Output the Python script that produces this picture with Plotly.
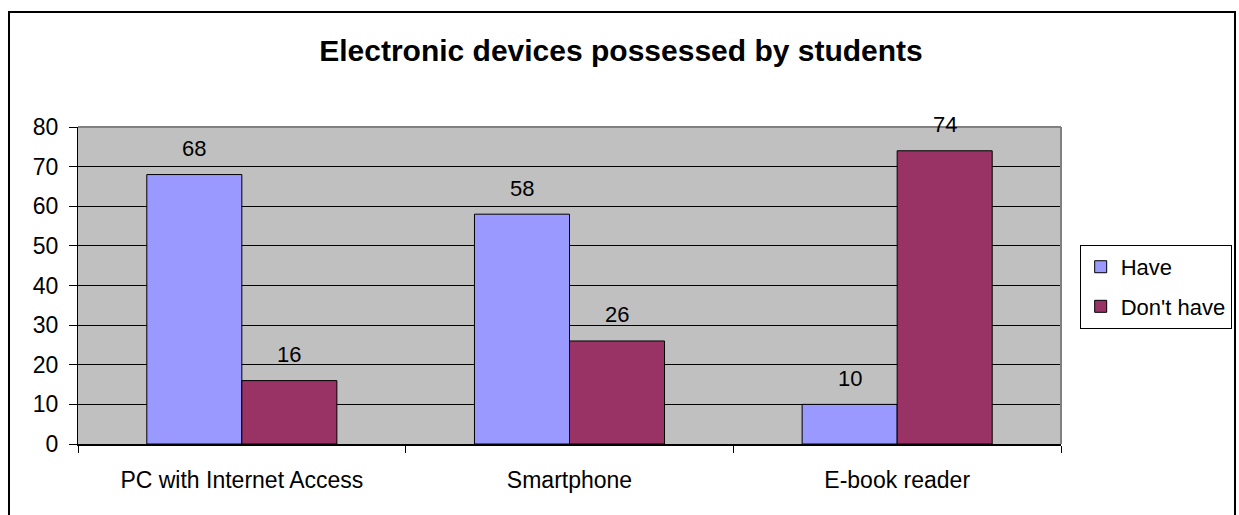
import plotly.graph_objects as go

# Survey results: number of students with / without each device
categories = ["PC with Internet Access", "Smartphone", "E-book reader"]
have = [68, 58, 10]
dont_have = [16, 26, 74]
series_names = ["Have", "Don't have"]
y_ticks = [0, 10, 20, 30, 40, 50, 60, 70, 80]

FONT = "Liberation Sans, Arial, sans-serif"
BAR_GAP = 0.42

fig = go.Figure()
fig.add_trace(go.Bar(
    x=categories, y=have, name=series_names[0],
    marker=dict(color="#9999FF", line=dict(color="black", width=1)),
    legendgroup="a",
))
fig.add_trace(go.Bar(
    x=categories, y=dont_have, name=series_names[1],
    marker=dict(color="#993366", line=dict(color="black", width=1)),
    legendgroup="b",
))

# value labels above each bar, placed at the bar's group offset
half = (1 - BAR_GAP) / 2
for i, (a, b) in enumerate(zip(have, dont_have)):
    for xpos, val in ((i - half / 2, a), (i + half / 2, b)):
        fig.add_annotation(
            x=xpos, y=val, xref="x", yref="y", text=str(val),
            showarrow=False, yshift=26, yanchor="middle",
            font=dict(family=FONT, size=22, color="black"),
        )

# outer chart frame
fig.add_shape(type="rect", xref="paper", yref="paper",
              x0=-0.0702, x1=1.177, y0=-0.3, y1=1.3628,
              line=dict(color="black", width=2), layer="above")
# top and right plot-area edges in grey
fig.add_shape(type="line", xref="paper", yref="paper",
              x0=0, x1=1, y0=1, y1=1,
              line=dict(color="#808080", width=2), layer="above")
fig.add_shape(type="line", xref="paper", yref="paper",
              x0=1, x1=1, y0=0, y1=1,
              line=dict(color="#808080", width=2), layer="above")

fig.update_layout(
    width=1239, height=515,
    margin=dict(l=78, r=178, t=127, b=71, autoexpand=False),
    paper_bgcolor="white",
    plot_bgcolor="#C0C0C0",
    barmode="group",
    bargap=BAR_GAP,
    bargroupgap=0,
    title=dict(
        text="<b>Electronic devices possessed by students</b>",
        x=621 / 1239, xanchor="center",
        y=1 - 50 / 515, yanchor="middle",
        font=dict(family=FONT, size=30, color="black"),
    ),
    font=dict(family=FONT, size=22, color="black"),
    legend=dict(
        x=1.019, xanchor="left",
        y=0.628, yanchor="top",
        bordercolor="black", borderwidth=1,
        bgcolor="white",
        font=dict(family=FONT, size=22, color="black"),
        tracegroupgap=8,
        traceorder="grouped",
        itemwidth=30,
    ),
    showlegend=True,
)

fig.update_xaxes(
    type="category",
    showline=True, linecolor="black", linewidth=2,
    ticks="outside", tickson="boundaries", ticklen=7,
    tickcolor="black", tickwidth=1,
    showgrid=False,
    tickfont=dict(family=FONT, size=23, color="black"),
    ticklabelstandoff=14,
)
fig.update_yaxes(
    range=[0, 80],
    tickvals=y_ticks,
    showline=True, linecolor="black", linewidth=1,
    ticks="outside", ticklen=8, tickcolor="black", tickwidth=1,
    showgrid=True, gridcolor="black", gridwidth=1,
    zeroline=False,
    tickfont=dict(family=FONT, size=23, color="black"),
    ticklabelstandoff=6,
)

fig.write_html("out.html")
